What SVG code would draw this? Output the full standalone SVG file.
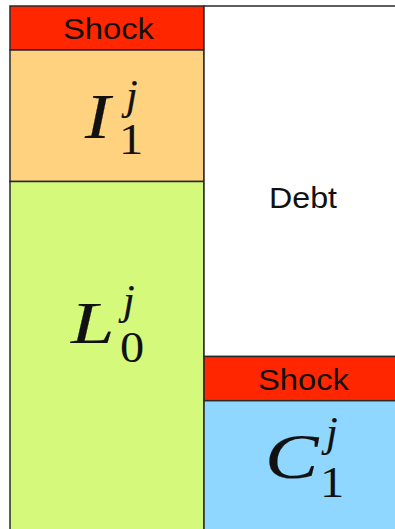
<svg xmlns="http://www.w3.org/2000/svg" width="395" height="529" viewBox="0 0 395 529">
<style>
.box{stroke:#2a2a2a;stroke-width:1.5}
.red{fill:#ff2600}
.lbl{font-family:"Liberation Sans",Arial,sans-serif;font-size:30px;fill:#111}
.m{font-family:"Liberation Serif","Times New Roman",serif;font-style:italic;fill:#111;stroke:#111;stroke-width:0.2}
.n{font-family:"Liberation Serif","Times New Roman",serif;fill:#111}
</style>
<rect x="0" y="0" width="395" height="529" fill="#ffffff"/>
<g id="shock-left">
<rect class="box red" x="10" y="6" width="194" height="44"/>
<text class="lbl" x="63" y="38.5" textLength="91" lengthAdjust="spacingAndGlyphs">Shock</text>
</g>
<g id="I1j">
<rect class="box" x="10" y="50" width="194" height="131.5" fill="#ffd27f"/>
<text class="m" transform="translate(85,138) scale(1.2,1)" font-size="63">I</text>
<text class="m" x="126" y="109" font-size="42">j</text>
<text class="n" transform="translate(119,154) scale(1.1,1)" font-size="44">1</text>
</g>
<g id="L0j">
<rect class="box" x="10" y="181.5" width="194" height="350" fill="#d5f97a"/>
<text class="m" transform="translate(71,343) scale(1.3,1)" font-size="60">L</text>
<text class="m" x="123" y="314" font-size="42">j</text>
<text class="n" transform="translate(120,362) scale(1.1,1)" font-size="44">0</text>
</g>
<g id="debt">
<rect class="box" x="204" y="6" width="194" height="350.5" fill="#ffffff"/>
<text class="lbl" x="269" y="208" textLength="68" lengthAdjust="spacingAndGlyphs">Debt</text>
</g>
<g id="shock-right">
<rect class="box red" x="204" y="356.5" width="194" height="44.2"/>
<text class="lbl" x="258" y="389.5" textLength="91" lengthAdjust="spacingAndGlyphs">Shock</text>
</g>
<g id="C1j">
<rect class="box" x="204" y="400.7" width="194" height="130" fill="#8fd7ff"/>
<text class="m" transform="translate(265,478) scale(1.25,1)" font-size="64">C</text>
<text class="m" x="326" y="446" font-size="42">j</text>
<text class="n" transform="translate(320,497) scale(1.1,1)" font-size="44">1</text>
</g>
<g id="connectors"/>
</svg>
